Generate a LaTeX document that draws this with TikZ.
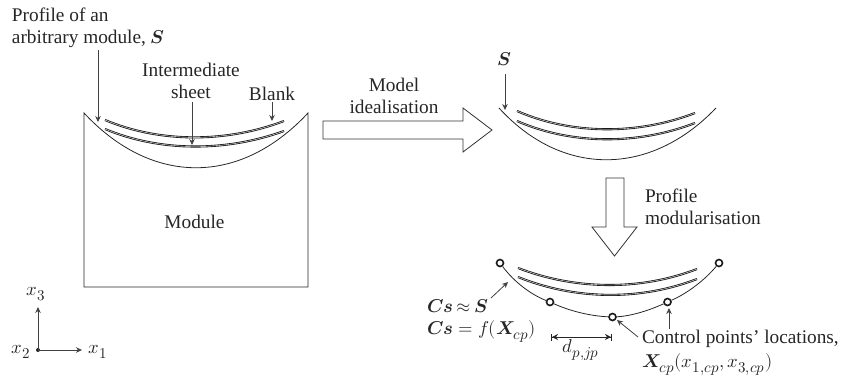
\documentclass[tikz,border=0pt]{standalone}
\usepackage{fontspec}
\usepackage{unicode-math}
\setmainfont{Liberation Serif}
\DeclareMathSizes{19.3}{18.6}{15}{12}
\usetikzlibrary{arrows.meta}
\tikzset{
  lbl/.style={inner sep=0pt,outer sep=0pt,font=\fontsize{19.3}{22}\selectfont,text=black!85},
  thinline/.style={draw=black!85,line width=0.8pt},
  sheet/.style={draw=black!90,line width=0.85pt,double=white,double distance=0.4pt},
  pointer/.style={draw=black!75,line width=0.8pt,-{Stealth[length=6pt,width=5.5pt]}},
  cpoint/.style={circle,draw=black!90,line width=1.6pt,fill=white,minimum size=7pt,inner sep=0pt},
  blockarrow/.style={draw=black!80,line width=0.8pt,fill=white,line join=miter}
}
\newcommand{\tightrel}{\mskip-1.5mu}
\begin{document}
\begin{tikzpicture}[x=1pt,y=-1pt]
\useasboundingbox (0,0) rectangle (851,384);
% module
\draw[thinline] (84,287) -- (84,113) .. controls (152,186) and (240,186) .. (308,113) -- (308,287) -- cycle;
\draw[sheet] (105,120) .. controls (160,143) and (226,143) .. (284,121);
\draw[sheet] (105,129) .. controls (160,152) and (226,152) .. (284,131);
% idealised
\draw[thinline] (499,108) .. controls (562,177) and (650,177) .. (716,108);
\draw[sheet] (517,111) .. controls (572,135) and (638,135) .. (695,113);
\draw[sheet] (517,121) .. controls (572,145) and (638,145) .. (695,123);
% modularised
\node[cpoint] (c1) at (500,263) {};
\node[cpoint] (c2) at (550,302) {};
\node[cpoint] (c3) at (612.5,317) {};
\node[cpoint] (c4) at (667.5,302) {};
\node[cpoint] (c5) at (719,263) {};
\draw[thinline] (c1) .. controls (515,283) and (532,295) .. (c2);
\draw[thinline] (c2) .. controls (570,311) and (590,316) .. (c3);
\draw[thinline] (c3) .. controls (632,316) and (650,310) .. (c4);
\draw[thinline] (c4) .. controls (686,294) and (704,281) .. (c5);
\draw[sheet] (518,268) .. controls (575,290) and (640,291) .. (697,269);
\draw[sheet] (518,277) .. controls (575,300) and (640,301) .. (697,279);
% block arrows
\draw[blockarrow] (323,121) -- (463,121) -- (463,108) -- (492,130) -- (463,152) -- (463,139) -- (323,139) -- cycle;
\draw[blockarrow] (606,178) -- (624,178) -- (624,227) -- (637,227) -- (614.5,256) -- (592,227) -- (606,227) -- cycle;
% labels
\node[lbl,align=left,anchor=west] (profile) at (12,28) {Profile of an\\arbitrary module, $\symbfit{S}$};
\node[lbl,align=center] (inter) at (191,81) {Intermediate\\sheet};
\node[lbl] (blank) at (272,94) {Blank};
\node[lbl] (module) at (194.5,222) {Module};
\node[lbl,align=center] (ideal) at (394,96) {Model\\idealisation};
\node[lbl,align=left,anchor=west] (modul) at (645,207) {Profile\\modularisation};
\node[lbl] (s) at (504,59) {$\symbfit{S}$};
\node[lbl,align=left,anchor=west] (cs) at (427,321) {$\symbfit{Cs}\tightrel\approx\tightrel\symbfit{S}$\\$\symbfit{Cs}=f(\symbfit{X}_{cp})$};
\node[lbl] (d) at (581,350) {$d_{p,jp}$};
\node[lbl,align=left,anchor=west] (ctrl) at (642,353) {Control points' locations,\\[2pt]$\symbfit{X}_{cp}(x_{1,cp},x_{3,cp})$};
\node[lbl] (x3) at (36,294) {$x_3$};
\node[lbl] (x2) at (21,352) {$x_2$};
\node[lbl] (x1) at (98,352) {$x_1$};
% pointers
\coordinate (a1s) at (98,50); \coordinate (a1e) at (98,122);
\coordinate (a2s) at (192,102); \coordinate (a2e) at (192,145);
\coordinate (a3s) at (272,102); \coordinate (a3e) at (272,121);
\coordinate (a4s) at (505,74); \coordinate (a4e) at (505,110);
\coordinate (a5s) at (491,298); \coordinate (a5e) at (508,282);
\coordinate (a6s) at (638,337); \coordinate (a6e) at (617,320);
\coordinate (a7s) at (669,329); \coordinate (a7e) at (669,308);
\coordinate (ds) at (551,337); \coordinate (de) at (612,337);
\draw[pointer] (a1s) -- (a1e);
\draw[pointer] (a2s) -- (a2e);
\draw[pointer] (a3s) -- (a3e);
\draw[pointer] (a4s) -- (a4e);
\draw[pointer] (a5s) -- (a5e);
\draw[pointer] (a6s) -- (a6e);
\draw[pointer] (a7s) -- (a7e);
\draw[draw=black!85,line width=0.8pt,{Bar[width=7pt,length=1pt]Stealth[length=6pt,width=6pt]}-{Stealth[length=6pt,width=6pt]Bar[width=7pt,length=1pt]}] (ds) -- (de);
% axes
\node[circle,fill=black!85,minimum size=4pt,inner sep=0pt] (o) at (38,350) {};
\coordinate (ax1) at (82,350); \coordinate (ax3) at (38,307);
\draw[pointer] (o.center) -- (ax1);
\draw[pointer] (o.center) -- (ax3);
\end{tikzpicture}
\end{document}
